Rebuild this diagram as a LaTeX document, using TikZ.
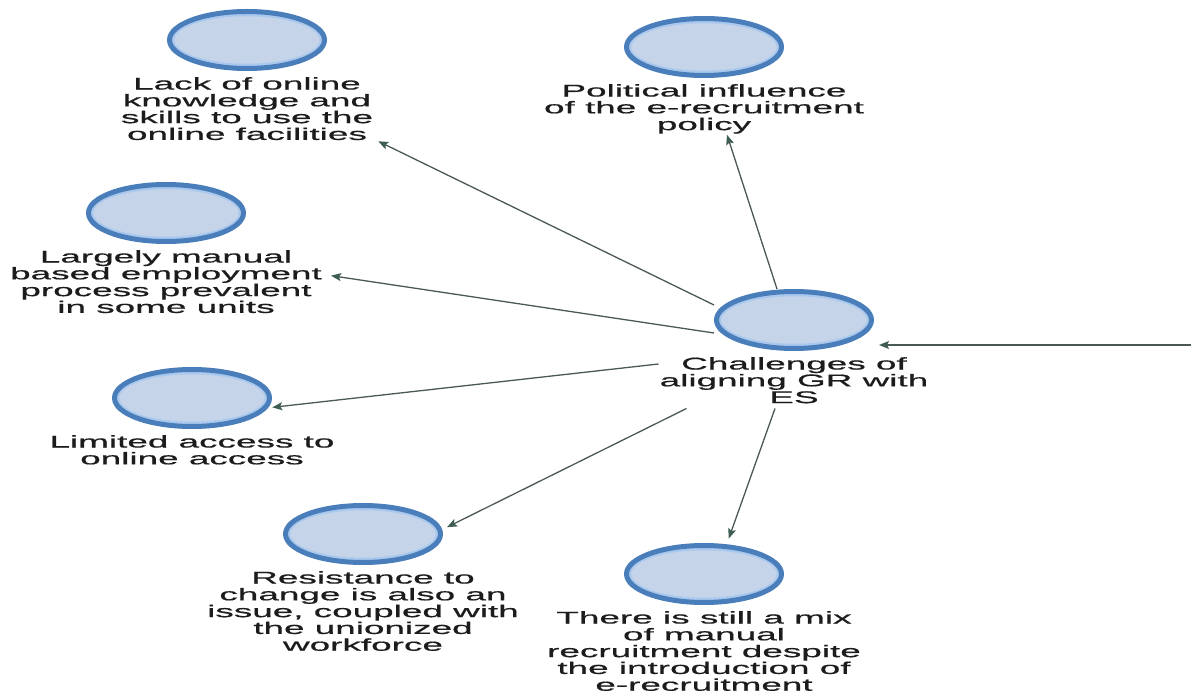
\documentclass[tikz,border=0pt]{standalone}
\usepackage{fontspec}
\setmainfont[FakeStretch=2.17, FakeBold=0.7]{Liberation Sans}
\usetikzlibrary{positioning,shapes.geometric,arrows.meta}

\definecolor{ringdark}{HTML}{4A7EBB}
\definecolor{ringlight}{HTML}{A9C8EE}
\definecolor{blobfill}{HTML}{C6D4EA}
\definecolor{linkcol}{HTML}{4B5955}
\definecolor{tipcol}{HTML}{3D5E50}
\definecolor{txtcol}{HTML}{1C1C1C}

\begin{document}
\begin{tikzpicture}[
    x=1pt, y=-1pt,
    blob/.style={ellipse, draw=ringdark, line width=5pt, fill=blobfill,
                 minimum width=155pt, minimum height=57pt, inner sep=0pt,
                 path picture={\draw[ringlight, line width=2.5pt]
                     (path picture bounding box.center)
                     ellipse [x radius=74pt, y radius=25pt];}},
    blobtext/.style={align=center, inner sep=1pt, text=txtcol,
                     font=\fontsize{17}{16.8}\selectfont, below=5pt of #1},
    link/.style={draw=linkcol, line width=1.3pt,
                 -{Stealth[length=10pt, width=8pt, inset=2pt, color=tipcol]}},
]
\useasboundingbox (0,0) rectangle (1191,692);

\node [blob] (lack)   at (247,40)  {};
\node [blob] (polit)  at (704,47)  {};
\node [blob] (larg)   at (166,213) {};
\node [blob] (chal)   at (794,320) {};
\node [blob] (limit)  at (192,398) {};
\node [blob] (resist) at (363,534) {};
\node [blob] (there)  at (704,574) {};

\node [blobtext=lack]   (lacktxt)   {Lack of online\\knowledge and\\skills to use the\\online facilities};
\node [blobtext=polit]  (polittxt)  {Political influence\\of the e-recruitment\\policy};
\node [blobtext=larg]   (largtxt)   {Largely manual\\based employment\\process prevalent\\in some units};
\node [blobtext=chal]   (chaltxt)   {Challenges of\\aligning GR with\\ES};
\node [blobtext=limit]  (limittxt)  {Limited access to\\online access};
\node [blobtext=resist] (resisttxt) {Resistance to\\change is also an\\issue, coupled with\\the unionized\\workforce};
\node [blobtext=there]  (theretxt)  {There is still a mix\\of manual\\recruitment despite\\the introduction of\\e-recruitment};

\coordinate (feed) at (1200,345);

\draw [link] (feed) -- ([xshift=5pt,yshift=-25pt]chal.east);
\draw [link] ([yshift=15pt]chal.west) -- ([xshift=4pt]lacktxt.south east);
\draw [link] ([xshift=-17pt]chal.north) -- ([xshift=23pt]polittxt.south);
\draw [link] ([yshift=-13pt]chal.west) -- ([xshift=8pt,yshift=6pt]largtxt.east);
\draw [link] ([yshift=-8pt]chaltxt.north west) -- ([xshift=4pt]limit.-7);
\draw [link] ([xshift=28pt,yshift=-4pt]chaltxt.south west) -- ([xshift=6pt]resist.5);
\draw [link] ([xshift=-19pt,yshift=-4pt]chaltxt.south) -- ([yshift=6pt]there.50);

\end{tikzpicture}
\end{document}
